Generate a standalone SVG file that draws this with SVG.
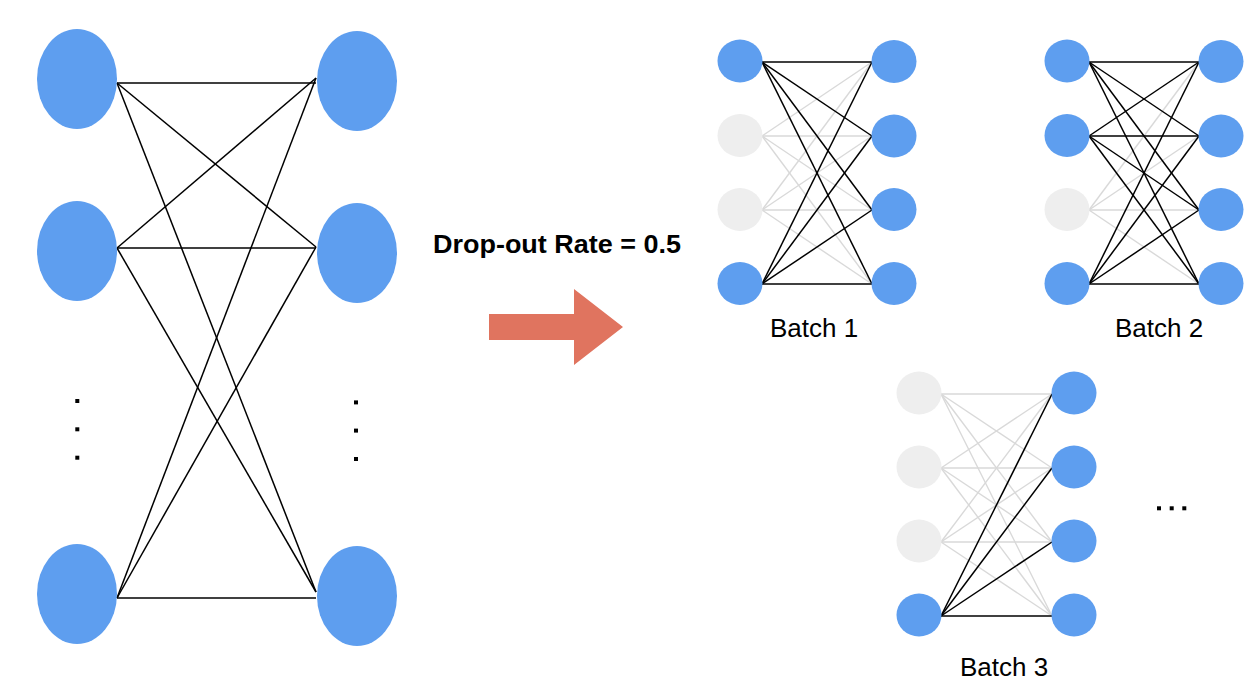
<svg xmlns="http://www.w3.org/2000/svg" width="1254" height="692" viewBox="0 0 1254 692">
<style>
.n{fill:#5E9EEF}
.g{fill:#EEEEEE}
.k{stroke:#000;stroke-width:1.5;fill:none}
.l{stroke:#D9D9D9;stroke-width:1.4;fill:none}
.d{fill:#000}
.t{font-family:"Liberation Sans",Arial,sans-serif;font-size:26px;fill:#000}
</style>
<rect width="1254" height="692" fill="#fff"/>
<g id="connectors">
  <!-- full network -->
  <g class="k">
    <line x1="117" y1="83" x2="316" y2="83"/>
    <line x1="117" y1="83" x2="316" y2="247"/>
    <line x1="117" y1="83" x2="316" y2="592"/>
    <line x1="117" y1="248" x2="316" y2="78"/>
    <line x1="117" y1="248" x2="316" y2="248"/>
    <line x1="117" y1="248" x2="316" y2="592"/>
    <line x1="117" y1="598" x2="316" y2="78"/>
    <line x1="117" y1="598" x2="316" y2="247"/>
    <line x1="117" y1="598" x2="316" y2="598"/>
  </g>
  <!-- batch 1 -->
  <g class="l">
    <line x1="762" y1="136" x2="872" y2="62"/>
    <line x1="762" y1="136" x2="872" y2="136"/>
    <line x1="762" y1="136" x2="872" y2="210"/>
    <line x1="762" y1="136" x2="872" y2="284"/>
    <line x1="762" y1="210" x2="872" y2="62"/>
    <line x1="762" y1="210" x2="872" y2="136"/>
    <line x1="762" y1="210" x2="872" y2="210"/>
    <line x1="762" y1="210" x2="872" y2="284"/>
  </g>
  <g class="k">
    <line x1="762" y1="62" x2="872" y2="62"/>
    <line x1="762" y1="62" x2="872" y2="136"/>
    <line x1="762" y1="62" x2="872" y2="210"/>
    <line x1="762" y1="62" x2="872" y2="284"/>
    <line x1="762" y1="284" x2="872" y2="62"/>
    <line x1="762" y1="284" x2="872" y2="136"/>
    <line x1="762" y1="284" x2="872" y2="210"/>
    <line x1="762" y1="284" x2="872" y2="284"/>
  </g>
  <!-- batch 2 -->
  <g class="l">
    <line x1="1089" y1="210" x2="1199" y2="62"/>
    <line x1="1089" y1="210" x2="1199" y2="136"/>
    <line x1="1089" y1="210" x2="1199" y2="210"/>
    <line x1="1089" y1="210" x2="1199" y2="284"/>
  </g>
  <g class="k">
    <line x1="1089" y1="62" x2="1199" y2="62"/>
    <line x1="1089" y1="62" x2="1199" y2="136"/>
    <line x1="1089" y1="62" x2="1199" y2="210"/>
    <line x1="1089" y1="62" x2="1199" y2="284"/>
    <line x1="1089" y1="136" x2="1199" y2="62"/>
    <line x1="1089" y1="136" x2="1199" y2="136"/>
    <line x1="1089" y1="136" x2="1199" y2="210"/>
    <line x1="1089" y1="136" x2="1199" y2="284"/>
    <line x1="1089" y1="284" x2="1199" y2="62"/>
    <line x1="1089" y1="284" x2="1199" y2="136"/>
    <line x1="1089" y1="284" x2="1199" y2="210"/>
    <line x1="1089" y1="284" x2="1199" y2="284"/>
  </g>
  <!-- batch 3 -->
  <g class="l">
    <line x1="941" y1="394" x2="1052" y2="394"/>
    <line x1="941" y1="394" x2="1052" y2="468"/>
    <line x1="941" y1="394" x2="1052" y2="542"/>
    <line x1="941" y1="394" x2="1052" y2="616"/>
    <line x1="941" y1="468" x2="1052" y2="394"/>
    <line x1="941" y1="468" x2="1052" y2="468"/>
    <line x1="941" y1="468" x2="1052" y2="542"/>
    <line x1="941" y1="468" x2="1052" y2="616"/>
    <line x1="941" y1="542" x2="1052" y2="394"/>
    <line x1="941" y1="542" x2="1052" y2="468"/>
    <line x1="941" y1="542" x2="1052" y2="542"/>
    <line x1="941" y1="542" x2="1052" y2="616"/>
  </g>
  <g class="k">
    <line x1="941" y1="616" x2="1052" y2="394"/>
    <line x1="941" y1="616" x2="1052" y2="468"/>
    <line x1="941" y1="616" x2="1052" y2="542"/>
    <line x1="941" y1="616" x2="1052" y2="616"/>
  </g>
</g>
<!-- full network nodes -->
<g id="full-in-1"><ellipse class="n" cx="77" cy="79" rx="40" ry="50"/></g>
<g id="full-in-2"><ellipse class="n" cx="77" cy="251" rx="40" ry="50"/></g>
<g id="full-in-3"><ellipse class="n" cx="77" cy="594" rx="40" ry="50"/></g>
<g id="full-out-1"><ellipse class="n" cx="357" cy="81" rx="40" ry="50"/></g>
<g id="full-out-2"><ellipse class="n" cx="357" cy="253" rx="40" ry="50"/></g>
<g id="full-out-3"><ellipse class="n" cx="357" cy="596" rx="40" ry="50"/></g>
<g id="full-dots-left">
  <rect class="d" x="75.3" y="399" width="4" height="4"/>
  <rect class="d" x="75.3" y="427.3" width="4" height="4"/>
  <rect class="d" x="75.3" y="455.7" width="4" height="4"/>
</g>
<g id="full-dots-right">
  <rect class="d" x="354" y="400.4" width="4" height="4"/>
  <rect class="d" x="354" y="428.6" width="4" height="4"/>
  <rect class="d" x="354" y="457" width="4" height="4"/>
</g>
<!-- arrow and label -->
<g id="arrow">
  <polygon points="489,314 574,314 574,289 623,327 574,365 574,340 489,340" fill="#E0745F"/>
</g>
<g id="rate-label">
  <text class="t" x="433" y="252.5" font-weight="bold" textLength="248" lengthAdjust="spacingAndGlyphs">Drop-out Rate = 0.5</text>
</g>
<!-- batch 1 -->
<g id="b1-in-1"><ellipse class="n" cx="740" cy="61" rx="22.5" ry="21.5"/></g>
<g id="b1-in-2"><ellipse class="g" cx="740" cy="135.5" rx="22.5" ry="21.5"/></g>
<g id="b1-in-3"><ellipse class="g" cx="740" cy="209.5" rx="22.5" ry="21.5"/></g>
<g id="b1-in-4"><ellipse class="n" cx="740" cy="283.5" rx="22.5" ry="21.5"/></g>
<g id="b1-out-1"><ellipse class="n" cx="894" cy="61.5" rx="22.5" ry="21.5"/></g>
<g id="b1-out-2"><ellipse class="n" cx="894" cy="136" rx="22.5" ry="21.5"/></g>
<g id="b1-out-3"><ellipse class="n" cx="894" cy="209.5" rx="22.5" ry="21.5"/></g>
<g id="b1-out-4"><ellipse class="n" cx="894" cy="283.5" rx="22.5" ry="21.5"/></g>
<g id="b1-label"><text class="t" x="770" y="336.5">Batch 1</text></g>
<!-- batch 2 -->
<g id="b2-in-1"><ellipse class="n" cx="1067" cy="61" rx="22.5" ry="21.5"/></g>
<g id="b2-in-2"><ellipse class="n" cx="1067" cy="135.5" rx="22.5" ry="21.5"/></g>
<g id="b2-in-3"><ellipse class="g" cx="1067" cy="209.5" rx="22.5" ry="21.5"/></g>
<g id="b2-in-4"><ellipse class="n" cx="1067" cy="283.5" rx="22.5" ry="21.5"/></g>
<g id="b2-out-1"><ellipse class="n" cx="1221" cy="61.5" rx="22.5" ry="21.5"/></g>
<g id="b2-out-2"><ellipse class="n" cx="1221" cy="136" rx="22.5" ry="21.5"/></g>
<g id="b2-out-3"><ellipse class="n" cx="1221" cy="209.5" rx="22.5" ry="21.5"/></g>
<g id="b2-out-4"><ellipse class="n" cx="1221" cy="283.5" rx="22.5" ry="21.5"/></g>
<g id="b2-label"><text class="t" x="1115" y="336.5">Batch 2</text></g>
<!-- batch 3 -->
<g id="b3-in-1"><ellipse class="g" cx="919" cy="393" rx="22.5" ry="21.5"/></g>
<g id="b3-in-2"><ellipse class="g" cx="919" cy="467" rx="22.5" ry="21.5"/></g>
<g id="b3-in-3"><ellipse class="g" cx="919" cy="541" rx="22.5" ry="21.5"/></g>
<g id="b3-in-4"><ellipse class="n" cx="919" cy="615" rx="22.5" ry="21.5"/></g>
<g id="b3-out-1"><ellipse class="n" cx="1074" cy="393" rx="22.5" ry="21.5"/></g>
<g id="b3-out-2"><ellipse class="n" cx="1074" cy="467" rx="22.5" ry="21.5"/></g>
<g id="b3-out-3"><ellipse class="n" cx="1074" cy="541" rx="22.5" ry="21.5"/></g>
<g id="b3-out-4"><ellipse class="n" cx="1074" cy="615" rx="22.5" ry="21.5"/></g>
<g id="b3-label"><text class="t" x="960" y="676.3">Batch 3</text></g>
<!-- more batches -->
<g id="more-dots">
  <rect class="d" x="1157" y="506.3" width="4" height="4"/>
  <rect class="d" x="1169.7" y="506.3" width="4" height="4"/>
  <rect class="d" x="1182.3" y="506.3" width="4" height="4"/>
</g>
</svg>
